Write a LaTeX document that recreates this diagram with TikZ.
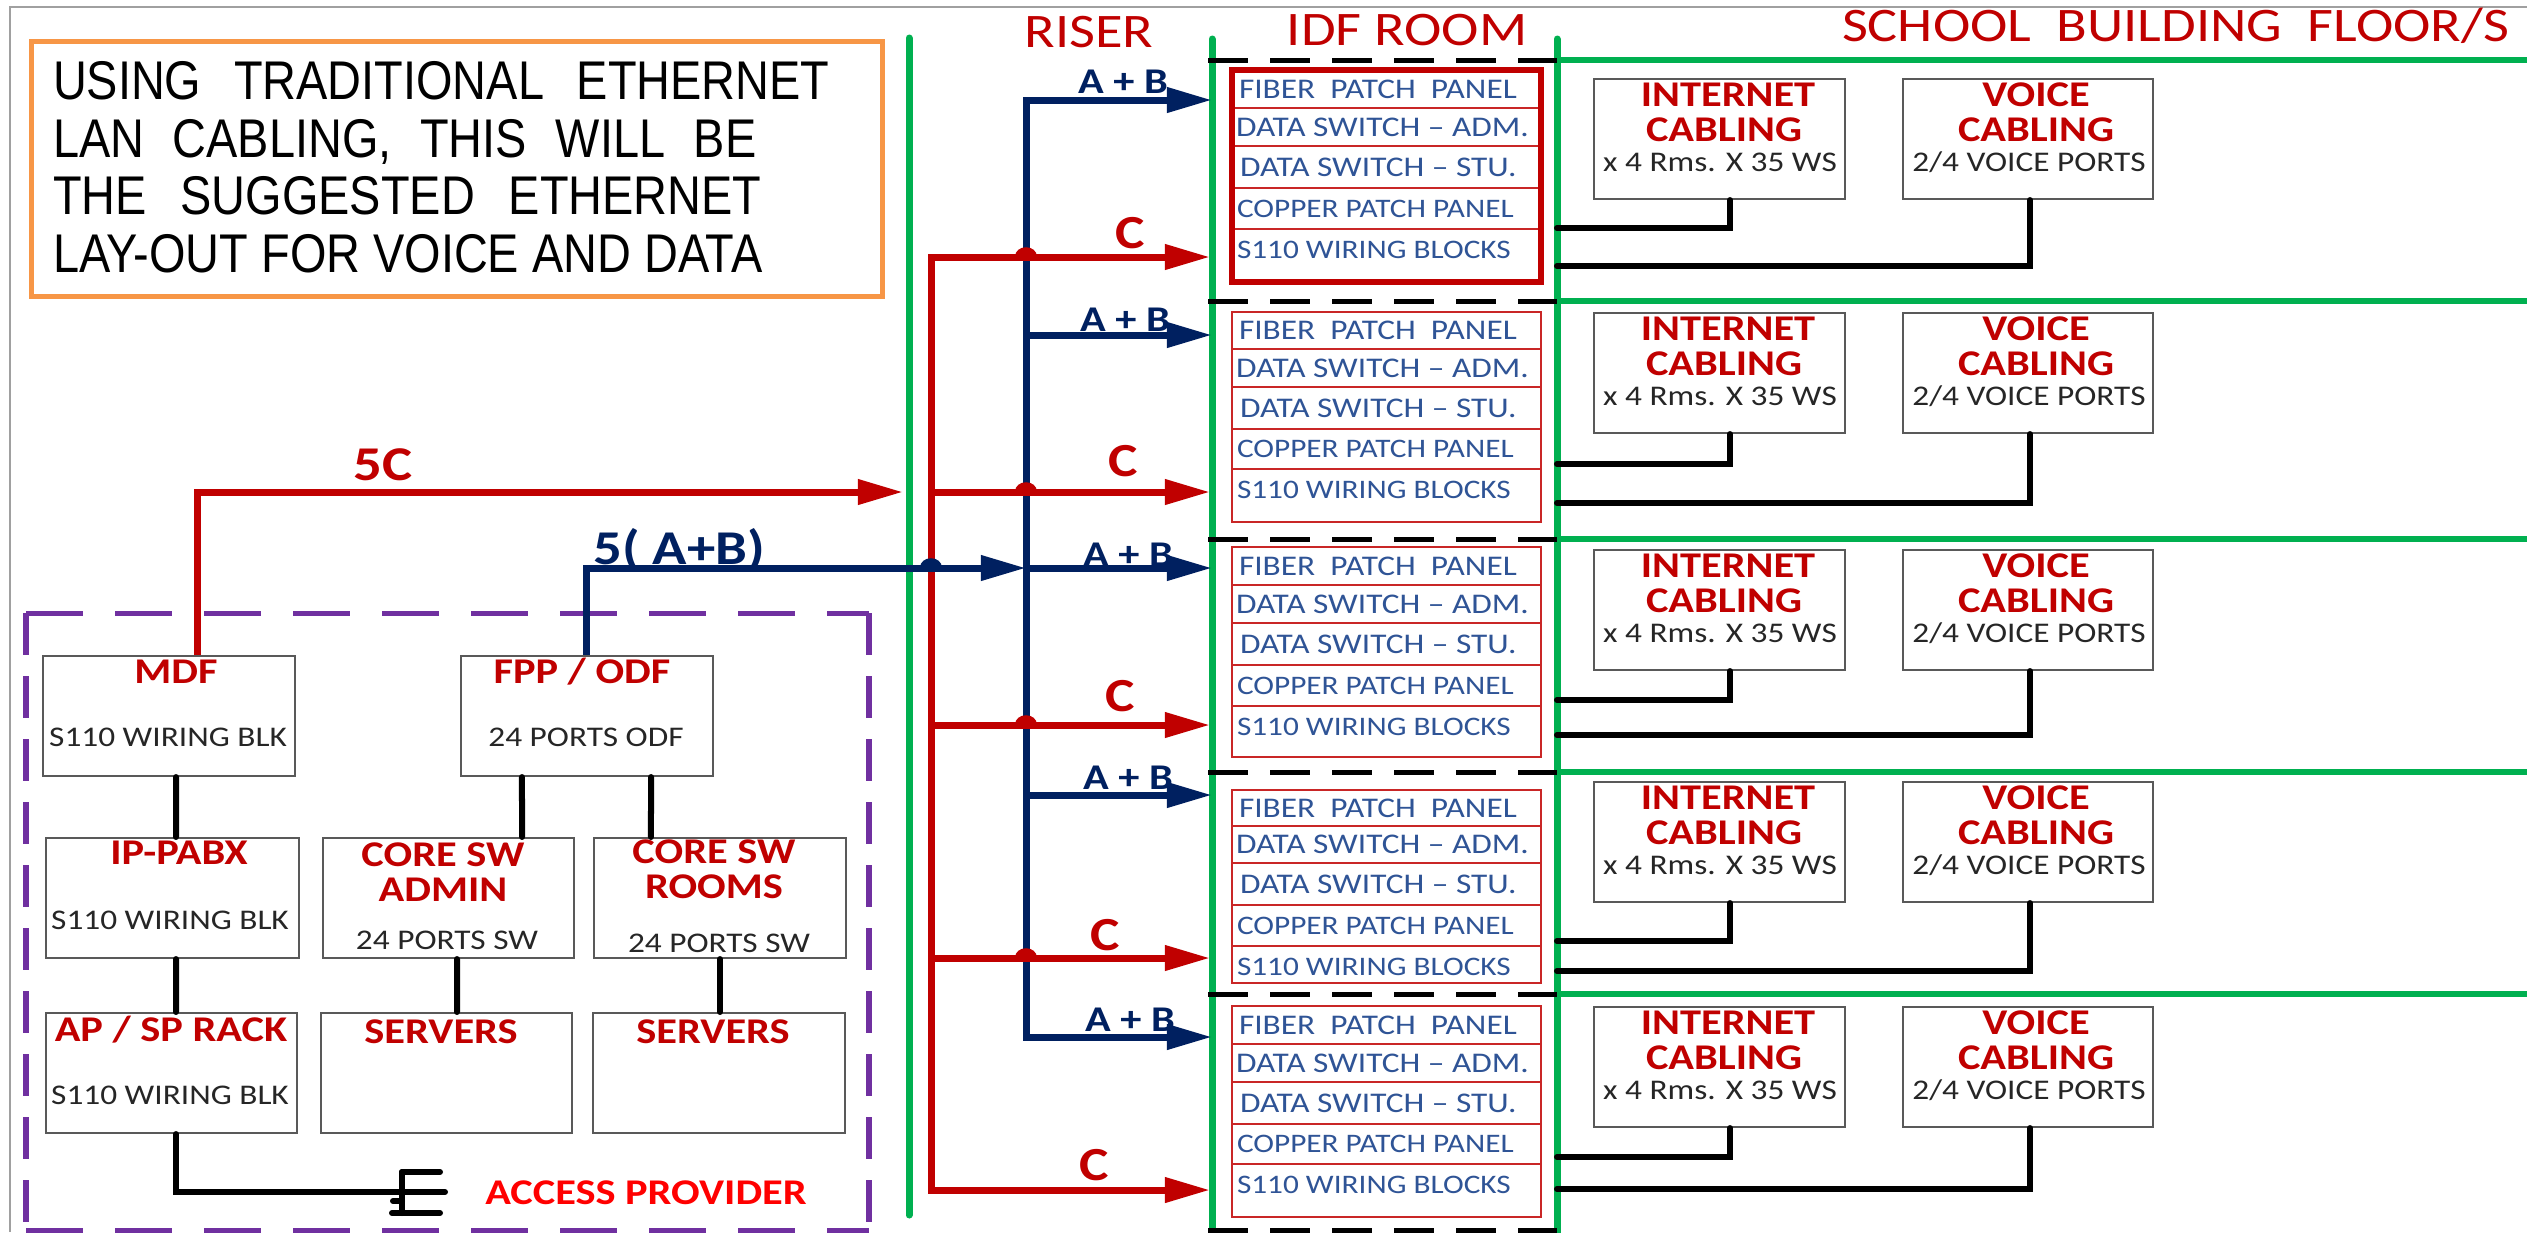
\documentclass[tikz,border=0pt]{standalone}
\usepackage{fontspec}
\setmainfont{Carlito}[FakeStretch=1.17]
\newfontfamily\introfont{Liberation Sans}[FakeStretch=0.86]
\usetikzlibrary{arrows.meta}
\definecolor{dred}{HTML}{C00000}
\definecolor{bred}{HTML}{FF0000}
\definecolor{navy}{HTML}{002060}
\definecolor{grn}{HTML}{00B050}
\definecolor{purp}{HTML}{7030A0}
\definecolor{orng}{HTML}{F79646}
\definecolor{sblue}{HTML}{2F5496}
\definecolor{boxgray}{HTML}{595959}
\definecolor{framegray}{HTML}{A0A0A0}
\tikzset{
  txt/.style={inner sep=0pt, outer sep=0pt},
  hdr/.style={txt, text=dred, font=\fontsize{13.7}{15}\selectfont},
  ttl/.style={txt, text=dred, font=\fontsize{10.3}{12}\selectfont\bfseries},
  sub/.style={txt, text=black!85, font=\fontsize{8.1}{10}\selectfont},
  stk/.style={txt, anchor=west, text=sblue, font=\fontsize{8.1}{10}\selectfont},
  stks/.style={stk, font=\fontsize{7.6}{9}\selectfont},
  clab/.style={txt, text=dred, font=\fontsize{13.5}{15}\selectfont\bfseries},
  ablab/.style={txt, text=navy, font=\fontsize{10.3}{12}\selectfont\bfseries},
  biglab/.style={txt, font=\fontsize{13.8}{16}\selectfont\bfseries},
  introtxt/.style={txt, anchor=base west, font=\introfont\fontsize{15.5}{18}\selectfont},
  box/.style={draw=boxgray, line width=0.02cm, minimum width=2.52cm, minimum height=1.2cm, inner sep=0pt},
  redl/.style={draw=dred, line width=0.07cm},
  bluel/.style={draw=navy, line width=0.07cm},
  tip/.style={-{Triangle[length=0.45cm,width=0.24cm]}},
  blk/.style={draw=black, line width=0.06cm, line cap=round},
  grnl/.style={draw=grn, line width=0.07cm, line cap=round},
  idfdash/.style={draw=black, line width=0.05cm, dash pattern=on 0.40cm off 0.22cm},
  purph/.style={draw=purp, line width=0.05cm, dash pattern=on 0.57cm off 0.32cm},
  purpv/.style={draw=purp, line width=0.06cm, dash pattern=on 0.42cm off 0.21cm},
  thinred/.style={draw=dred!85, line width=0.015cm},
}
\begin{document}
\begin{tikzpicture}[x=0.01cm, y=-0.01cm]
\fill[white] (0,0) rectangle (2527,1232);
\useasboundingbox (0,0) rectangle (2527,1232);

% outer frame
\draw[framegray, line width=0.02cm] (10,1232) -- (10,7) -- (2527,7);

% intro text box
\node[draw=orng, line width=0.05cm, minimum width=8.5cm, minimum height=2.54cm, inner sep=0pt] (introbox) at (457,169) {};
\node[introtxt] (intro1) at (53,99) {\makebox[7.76cm][s]{USING TRADITIONAL ETHERNET}};
\node[introtxt] (intro2) at (53,157) {\makebox[7.03cm][s]{LAN CABLING, THIS WILL BE}};
\node[introtxt] (intro3) at (53,214) {\makebox[7.08cm][s]{THE SUGGESTED ETHERNET}};
\node[introtxt] (intro4) at (53,272) {LAY-OUT FOR VOICE AND DATA};

% column headers
\node[hdr] (riser) at (1089,32) {RISER};
\node[hdr] (idfroom) at (1407,30) {IDF ROOM};
\node[hdr, anchor=west] (school) at (1842,26) {SCHOOL\ \ BUILDING\ \ FLOOR/S};

% green partitions
\draw[grnl] (909,38) -- (909,1215);
\draw[grnl] (1212,39) -- (1212,1240);
\draw[grnl] (1557,39) -- (1557,1240);
\foreach \D in {60,301,539,772,994}
  \draw[grnl, line width=0.06cm] (1557,\D) -- (2540,\D);

% floor separators in the IDF column
\foreach \D in {60,301,539,772,994,1230}
  \draw[idfdash] (1208,\D) -- (1557,\D);

% IDF equipment stacks
\foreach \k/\ra/\rb/\rc/\rd/\re/\rf in {1/70/108/146/188/229/282, 2/312/349/387/429/469/522, 3/547/585/623/665/706/757, 4/790/826/863/905/946/983, 5/1006/1044/1082/1124/1164/1217}{
  \draw[thinred] (1232,\ra) rectangle (1541,\rf);
  \foreach \yy in {\rb,\rc,\rd,\re} \draw[thinred] (1232,\yy) -- (1541,\yy);
  \node[stk] (fib\k) at (1239,{(\ra+\rb)/2}) {FIBER\ \ PATCH\ \ PANEL};
  \node[stk] (adm\k) at (1236,{(\rb+\rc)/2}) {DATA SWITCH – ADM.};
  \node[stk] (stu\k) at (1240,{(\rc+\rd)/2}) {DATA SWITCH – STU.};
  \node[stks] (cop\k) at (1237,{(\rd+\re)/2}) {COPPER PATCH PANEL};
  \node[stks] (wir\k) at (1237,\re+21) {S110 WIRING BLOCKS};
}
\draw[dred, line width=0.06cm] (1232,70) rectangle (1541,282);

% floor outlets
\foreach \k/\T/\yi/\yv in {1/79/228/266, 2/313/464/503, 3/550/700/735, 4/782/941/971, 5/1007/1157/1189}{
  \node[box, minimum width=2.51cm] (inet\k) at (1719.5,\T+60) {};
  \node[box, minimum width=2.50cm] (voice\k) at (2028,\T+60) {};
  \node[ttl] (inetA\k) at (1728,\T+16) {INTERNET};
  \node[ttl] (inetB\k) at (1724,\T+51) {CABLING};
  \node[sub] (inetC\k) at (1720,\T+83) {x 4 Rms. X 35 WS};
  \node[ttl] (voiceA\k) at (2036,\T+16) {VOICE};
  \node[ttl] (voiceB\k) at (2036,\T+51) {CABLING};
  \node[sub] (voiceC\k) at (2029,\T+83) {2/4 VOICE PORTS};
  \coordinate (gi\k) at (1557,\yi);
  \coordinate (gv\k) at (1557,\yv);
  \draw[blk] ([xshift=0.105cm]inet\k.south) |- (gi\k);
  \draw[blk] ([xshift=0.02cm]voice\k.south) |- (gv\k);
}

% main distribution area
\draw[purph] (26,613) -- (869,613);
\draw[purph] (26,1230) -- (869,1230);
\draw[purpv] (26,613) -- (26,1230);
\draw[purpv] (869,613) -- (869,1230);

\node[box] (mdf) at (169,716) {};
\node[box] (fpp) at (587,716) {};
\node[box, minimum width=2.53cm] (ipabx) at (172.5,898) {};
\node[box, minimum width=2.51cm] (admin) at (448.5,898) {};
\node[box] (rooms) at (720,898) {};
\node[box, minimum width=2.51cm] (apsp) at (171.5,1073) {};
\node[box, minimum width=2.51cm] (srva) at (446.5,1073) {};
\node[box] (srvb) at (719,1073) {};

\node[ttl] (mdfT) at (176,672) {MDF};
\node[sub] (mdfS) at (168,737) {S110 WIRING BLK};
\node[ttl] (fppT) at (582,672) {FPP / ODF};
\node[sub] (fppS) at (586,737) {24 PORTS ODF};
\node[ttl] (ipabxT) at (179,853) {IP-PABX};
\node[sub] (ipabxS) at (170,920) {S110 WIRING BLK};
\node[ttl] (adminT) at (443,855) {CORE SW};
\node[ttl] (adminU) at (443,890) {ADMIN};
\node[sub] (adminS) at (447,940) {24 PORTS SW};
\node[ttl] (roomsT) at (714,852) {CORE SW};
\node[ttl] (roomsU) at (714,887) {ROOMS};
\node[sub] (roomsS) at (719,943) {24 PORTS SW};
\node[ttl] (apspT) at (171,1030) {AP / SP RACK};
\node[sub] (apspS) at (170,1095) {S110 WIRING BLK};
\node[ttl] (srvaT) at (441,1032) {SERVERS};
\node[ttl] (srvbT) at (713,1032) {SERVERS};

\draw[blk] ([xshift=0.07cm]mdf.south) -- ([xshift=0.035cm]ipabx.north);
\draw[blk] ([xshift=-0.65cm]fpp.south) -- ([xshift=0.735cm]admin.north);
\draw[blk] ([xshift=0.64cm]fpp.south) -- ([xshift=-0.69cm]rooms.north);
\draw[blk] ([xshift=0.035cm]ipabx.south) -- ([xshift=0.045cm]apsp.north);
\draw[blk] ([xshift=0.085cm]admin.south) -- ([xshift=0.105cm]srva.north);
\draw[blk] (rooms.south) -- ([xshift=0.01cm]srvb.north);

% access provider hand-off
\coordinate (plug) at (402,1192);
\draw[blk] ([xshift=0.045cm]apsp.south) |- (plug);
\draw[blk] (402,1172) -- (402,1213);
\draw[blk] (402,1172) -- (440,1172);
\draw[blk] (plug) -- (445,1192);
\draw[blk] (392,1213) -- (440,1213);
\draw[blk] (393,1201) -- (402,1201);
\node[txt, text=bred, font=\fontsize{10.3}{12}\selectfont\bfseries] (accp) at (646,1193) {ACCESS PROVIDER};

% riser trunks and feeds
\draw[bluel, line cap=rect] (1026,100) -- (1026,1037);
\foreach \k/\yb/\ax/\ay in {1/100/1123/82, 2/335/1125/320, 3/568/1128/555, 4/795/1128/778, 5/1037/1130/1020}{
  \coordinate (bs\k) at (1026,\yb);
  \coordinate (be\k) at (1212,\yb);
  \draw[bluel, tip] (bs\k) -- (be\k);
  \node[ablab] (ab\k) at (\ax,\ay) {A + B};
}
\draw[redl, line cap=rect] (931,257) -- (931,1190);
\foreach \k/\yr/\cx/\cy in {1/257/1130/233, 2/492/1123/461, 3/725/1120/696, 4/958/1105/935, 5/1190/1094/1165}{
  \coordinate (rs\k) at (931,\yr);
  \coordinate (re\k) at (1210,\yr);
  \draw[redl, tip] (rs\k) -- (re\k);
  \node[clab] (cl\k) at (\cx,\cy) {C};
}
\foreach \yr in {257,492,725,958}
  \fill[dred] (1015,\yr) .. controls (1015,\yr-13) and (1037,\yr-13) .. (1037,\yr) -- cycle;

% backbone from the MDF and the ODF
\draw[redl, tip] ([xshift=0.28cm]mdf.north) |- (903,492);
\node[biglab, text=dred] (lab5c) at (383,465) {5C};
\draw[bluel, tip] ([xshift=-0.01cm]fpp.north) |- (bs3);
\fill[navy] (920,568) .. controls (920,555) and (942,555) .. (942,568) -- cycle;
\node[biglab, text=navy] (lab5ab) at (679,550) {5( A+B)};

\end{tikzpicture}
\end{document}
